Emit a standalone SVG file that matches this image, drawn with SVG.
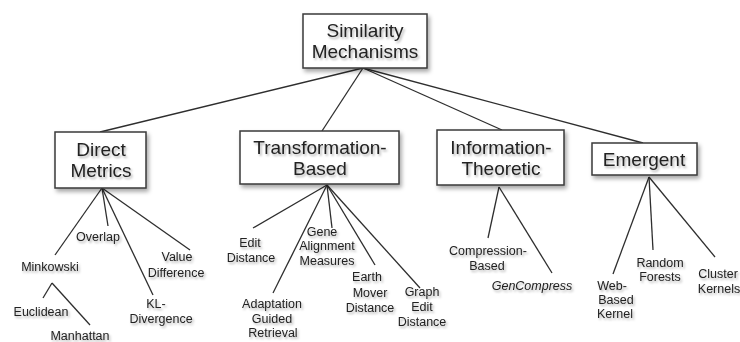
<svg xmlns="http://www.w3.org/2000/svg" width="740" height="342" viewBox="0 0 740 342">
  <defs>
    <filter id="boxShadow" x="-20%" y="-20%" width="150%" height="160%">
      <feDropShadow dx="2" dy="3" stdDeviation="2" flood-color="#000" flood-opacity="0.35"/>
    </filter>
    <filter id="textShadow" x="-10%" y="-30%" width="130%" height="180%">
      <feDropShadow dx="1.5" dy="2" stdDeviation="1.2" flood-color="#000" flood-opacity="0.3"/>
    </filter>
  </defs>
  <style>
    .box { fill: #fff; stroke: #3a3a3a; stroke-width: 1.5; filter: url(#boxShadow); }
    .title { font-family: "Liberation Sans", Arial, sans-serif; font-size: 19px; fill: #222; text-anchor: middle; filter: url(#textShadow); }
    .leaf { font-family: "Liberation Sans", Arial, sans-serif; font-size: 12.5px; fill: #222; text-anchor: middle; filter: url(#textShadow); }
    .it { font-style: italic; }
    .edge { stroke: #2e2e2e; stroke-width: 1.3; fill: none; }
  </style>
  <rect width="740" height="342" fill="#fff"/>

  <g id="connectors">
    <!-- root to categories -->
    <line class="edge" x1="363" y1="68" x2="100" y2="132"/>
    <line class="edge" x1="363" y1="68" x2="322" y2="131"/>
    <line class="edge" x1="363" y1="68" x2="502" y2="130"/>
    <line class="edge" x1="363" y1="68" x2="643" y2="143"/>
    <!-- Direct Metrics -->
    <line class="edge" x1="102" y1="188" x2="55" y2="255"/>
    <line class="edge" x1="102" y1="188" x2="108" y2="226"/>
    <line class="edge" x1="102" y1="188" x2="153" y2="295"/>
    <line class="edge" x1="102" y1="188" x2="190" y2="250"/>
    <line class="edge" x1="52" y1="283" x2="43" y2="298"/>
    <line class="edge" x1="52" y1="283" x2="90" y2="325"/>
    <!-- Transformation-Based -->
    <line class="edge" x1="327" y1="185" x2="253" y2="228"/>
    <line class="edge" x1="327" y1="185" x2="273" y2="293"/>
    <line class="edge" x1="327" y1="185" x2="332" y2="228"/>
    <line class="edge" x1="327" y1="185" x2="375" y2="265"/>
    <line class="edge" x1="327" y1="185" x2="420" y2="288"/>
    <!-- Information-Theoretic -->
    <line class="edge" x1="499" y1="187" x2="488" y2="238"/>
    <line class="edge" x1="499" y1="187" x2="552" y2="273"/>
    <!-- Emergent -->
    <line class="edge" x1="649" y1="177" x2="613" y2="274"/>
    <line class="edge" x1="649" y1="177" x2="653" y2="250"/>
    <line class="edge" x1="649" y1="177" x2="715" y2="257"/>
  </g>

  <g id="root">
    <rect class="box" x="303" y="14" width="124" height="54"/>
    <text class="title" x="365" y="37">Similarity</text>
    <text class="title" x="365" y="58">Mechanisms</text>
  </g>

  <g id="direct-metrics">
    <rect class="box" x="55" y="132" width="91" height="56"/>
    <text class="title" x="101" y="156">Direct</text>
    <text class="title" x="101" y="177">Metrics</text>
  </g>

  <g id="transformation-based">
    <rect class="box" x="240" y="131" width="159" height="53"/>
    <text class="title" x="320" y="154">Transformation-</text>
    <text class="title" x="320" y="175">Based</text>
  </g>

  <g id="information-theoretic">
    <rect class="box" x="437" y="130" width="127" height="55"/>
    <text class="title" x="501" y="154">Information-</text>
    <text class="title" x="501" y="175">Theoretic</text>
  </g>

  <g id="emergent">
    <rect class="box" x="592" y="143" width="105" height="32"/>
    <text class="title" x="644" y="166">Emergent</text>
  </g>

  <g id="minkowski"><text class="leaf" x="50" y="271">Minkowski</text></g>
  <g id="overlap"><text class="leaf" x="98" y="241">Overlap</text></g>
  <g id="value-difference">
    <text class="leaf" x="177" y="261">Value</text>
    <text class="leaf" x="176" y="277">Difference</text>
  </g>
  <g id="kl-divergence">
    <text class="leaf" x="156" y="308">KL-</text>
    <text class="leaf" x="161" y="323">Divergence</text>
  </g>
  <g id="euclidean"><text class="leaf" x="41" y="316">Euclidean</text></g>
  <g id="manhattan"><text class="leaf" x="80" y="340">Manhattan</text></g>

  <g id="edit-distance">
    <text class="leaf" x="250" y="247">Edit</text>
    <text class="leaf" x="251" y="262">Distance</text>
  </g>
  <g id="gene-alignment">
    <text class="leaf" x="322" y="236">Gene</text>
    <text class="leaf" x="327" y="250">Alignment</text>
    <text class="leaf" x="327" y="265">Measures</text>
  </g>
  <g id="earth-mover">
    <text class="leaf" x="367" y="281">Earth</text>
    <text class="leaf" x="370" y="297">Mover</text>
    <text class="leaf" x="370" y="312">Distance</text>
  </g>
  <g id="graph-edit">
    <text class="leaf" x="422" y="296">Graph</text>
    <text class="leaf" x="422" y="311">Edit</text>
    <text class="leaf" x="422" y="326">Distance</text>
  </g>
  <g id="adaptation-guided">
    <text class="leaf" x="272" y="308">Adaptation</text>
    <text class="leaf" x="272" y="323">Guided</text>
    <text class="leaf" x="273" y="337">Retrieval</text>
  </g>

  <g id="compression-based">
    <text class="leaf" x="488" y="255">Compression-</text>
    <text class="leaf" x="487" y="270">Based</text>
  </g>
  <g id="gencompress"><text class="leaf it" x="532" y="290">GenCompress</text></g>

  <g id="web-based-kernel">
    <text class="leaf" x="612" y="290">Web-</text>
    <text class="leaf" x="616" y="304">Based</text>
    <text class="leaf" x="615" y="318">Kernel</text>
  </g>
  <g id="random-forests">
    <text class="leaf" x="660" y="267">Random</text>
    <text class="leaf" x="660" y="281">Forests</text>
  </g>
  <g id="cluster-kernels">
    <text class="leaf" x="718" y="278">Cluster</text>
    <text class="leaf" x="719" y="293">Kernels</text>
  </g>
</svg>
